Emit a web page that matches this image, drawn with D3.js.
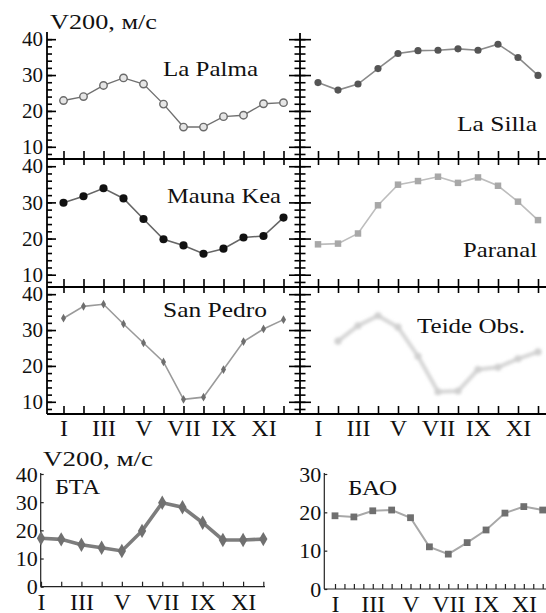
<!DOCTYPE html>
<html>
<head>
<meta charset="utf-8">
<script src="https://cdn.jsdelivr.net/npm/d3@7"></script>
<style>
  body { margin: 0; background: #fff; }
</style>
</head>
<body>
<svg id="chart" width="546" height="613"></svg>
<script>
// month labels
const months = ["I", "II", "III", "IV", "V", "VI", "VII", "VIII", "IX", "X", "XI", "XII"];

// V200 monthly values, m/s
const laPalma  = [22.9, 24.0, 27.1, 29.2, 27.5, 21.9, 15.5, 15.5, 18.4, 18.8, 22.0, 22.3];
const laSilla  = [27.9, 25.8, 27.5, 31.8, 36.0, 36.8, 36.9, 37.3, 36.9, 38.6, 34.9, 29.9];
const maunaKea = [29.9, 31.7, 33.9, 31.1, 25.4, 19.8, 18.1, 15.8, 17.2, 20.3, 20.7, 25.8];
const paranal  = [18.4, 18.6, 21.4, 29.2, 34.9, 35.9, 37.1, 35.4, 36.9, 34.6, 30.2, 25.1];
const sanPedro = [33.3, 36.6, 37.2, 31.7, 26.4, 21.1, 10.7, 11.3, 19.0, 26.8, 30.3, 32.9];
const teide    = [null, 26.9, 31.2, 34.0, 30.8, 22.7, 12.8, 13.0, 19.0, 19.6, 22.0, 23.9];
const bta      = [17.2, 16.8, 14.9, 13.8, 12.7, 19.8, 29.8, 28.2, 22.7, 16.6, 16.6, 16.9];
const bao      = [19.1, 18.8, 20.4, 20.6, 18.6, 11.0,  9.1, 12.1, 15.4, 19.8, 21.5, 20.6];

// tick values
const topTicks = [10, 20, 30, 40];
const btaTicks = [0, 10, 20, 30, 40];
const baoTicks = [0, 10, 20, 30];

const FONT = "'Liberation Serif', 'Times New Roman', serif";

const svg = d3.select("#chart");
const monthNums = d3.range(1, 13);

function styleText(sel, size) {
  sel.attr("font-size", size).style("font-family", FONT).attr("fill", "#111");
}

// ---- top 3x2 grid ----
const rows = [[32, 159], [159, 287], [287, 414]];
const yRows = rows.map(r => d3.scaleLinear().domain([6.6, 42]).range([r[1], r[0]]));
const xLeft = d3.scaleLinear().domain([1, 12]).range([63.5, 283.5]);
const xRight = d3.scaleLinear().domain([1, 12]).range([318, 538]);
const minorTop = d3.range(8, 42, 2);

const axes = svg.append("g").attr("stroke", "#000").attr("stroke-width", 1.8);

// frame lines
axes.append("line").attr("x1", 47).attr("x2", 47).attr("y1", 32).attr("y2", 414);
axes.append("line").attr("x1", 300).attr("x2", 300).attr("y1", 33).attr("y2", 414);
rows.forEach(r => {
  axes.append("line").attr("x1", 47).attr("x2", 546).attr("y1", r[1]).attr("y2", r[1]);
});

function tickStyle(g) {
  g.select(".domain").remove();
  g.selectAll(".tick line").attr("stroke", "#000").attr("stroke-width", 1.6);
}

yRows.forEach((y, i) => {
  // left axis: inward ticks
  svg.append("g").attr("transform", "translate(47,0)")
    .call(d3.axisRight(y).tickValues(minorTop).tickSize(5).tickFormat(""))
    .call(tickStyle);
  svg.append("g").attr("transform", "translate(47,0)")
    .call(d3.axisRight(y).tickValues(topTicks).tickSize(9).tickFormat(""))
    .call(tickStyle);
  svg.append("g").attr("transform", "translate(43,0)")
    .call(d3.axisLeft(y).tickValues(topTicks).tickSize(0).tickPadding(0))
    .call(g => g.select(".domain").remove())
    .call(g => styleText(g.selectAll("text"), 21));

  // right axis: ticks both sides
  [d3.axisLeft, d3.axisRight].forEach(ax => {
    svg.append("g").attr("transform", "translate(300,0)")
      .call(ax(y).tickValues(minorTop).tickSize(5.5).tickFormat(""))
      .call(tickStyle);
    svg.append("g").attr("transform", "translate(300,0)")
      .call(ax(y).tickValues(topTicks).tickSize(11).tickFormat(""))
      .call(tickStyle);
  });

  // month ticks
  const yb = rows[i][1];
  [xLeft, xRight].forEach(x => {
    svg.append("g").attr("transform", `translate(0,${yb})`)
      .call(d3.axisTop(x).tickValues(monthNums).tickSize(8).tickFormat(""))
      .call(tickStyle);
    if (i < 2) {
      svg.append("g").attr("transform", `translate(0,${yb})`)
        .call(d3.axisBottom(x).tickValues(monthNums).tickSize(6).tickFormat(""))
        .call(tickStyle);
    }
  });
});

// month labels under the grid
[xLeft, xRight].forEach(x => {
  svg.append("g").attr("transform", "translate(0,414)")
    .call(d3.axisBottom(x).tickValues(monthNums.filter(m => m % 2 === 1)).tickSize(0).tickPadding(0)
      .tickFormat(m => months[m - 1]))
    .call(g => g.select(".domain").remove())
    .call(g => styleText(g.selectAll("text").attr("dy", null).attr("y", 22), 24));
});

// series drawing
const defs = svg.append("defs");
defs.append("filter").attr("id", "blur").attr("x", "-10%").attr("y", "-10%").attr("width", "120%").attr("height", "120%")
  .append("feGaussianBlur").attr("stdDeviation", 1.5);

function drawSeries(x, y, values, opt) {
  const g = svg.append("g");
  if (opt.filter) g.attr("filter", opt.filter);
  const pts = values.map((v, i) => [i + 1, v]).filter(d => d[1] != null);
  const line = d3.line().x(d => x(d[0])).y(d => y(d[1]));
  g.append("path").attr("d", line(pts))
    .attr("fill", "none").attr("stroke", opt.line).attr("stroke-width", opt.lineWidth);
  g.selectAll("path.mark").data(pts).join("path").attr("class", "mark")
    .attr("transform", d => `translate(${x(d[0])},${y(d[1])})`)
    .attr("d", d3.symbol().type(opt.symbol).size(opt.size))
    .attr("fill", opt.fill)
    .attr("stroke", opt.stroke || "none")
    .attr("stroke-width", opt.strokeWidth || 0);
}

drawSeries(xLeft, yRows[0], laPalma, { line: "#707070", lineWidth: 1.4, symbol: d3.symbolCircle, size: 44, fill: "#e6e6e6", stroke: "#6a6a6a", strokeWidth: 1.4 });
drawSeries(xRight, yRows[0], laSilla, { line: "#8a8a8a", lineWidth: 1.6, symbol: d3.symbolCircle, size: 40, fill: "#555" });
drawSeries(xLeft, yRows[1], maunaKea, { line: "#666", lineWidth: 1.6, symbol: d3.symbolCircle, size: 52, fill: "#111" });
drawSeries(xRight, yRows[1], paranal, { line: "#bdbdbd", lineWidth: 1.6, symbol: d3.symbolSquare, size: 42, fill: "#a8a8a8" });
drawSeries(xLeft, yRows[2], sanPedro, { line: "#9a9a9a", lineWidth: 1.6, symbol: d3.symbolDiamond, size: 22, fill: "#6e6e6e" });
drawSeries(xRight, yRows[2], teide, { line: "#d6d6d6", lineWidth: 4, symbol: d3.symbolCircle, size: 40, fill: "#d0d0d0", filter: "url(#blur)" });

// site labels
const siteLabels = [
  { t: "La Palma", x: 163, y: 76, w: 95 },
  { t: "La Silla", x: 457, y: 131, w: 80 },
  { t: "Mauna Kea", x: 167, y: 203, w: 114 },
  { t: "Paranal", x: 463, y: 257, w: 74 },
  { t: "San Pedro", x: 163, y: 317, w: 104 },
  { t: "Teide Obs.", x: 417, y: 333, w: 108 },
  { t: "V200, м/с", x: 50, y: 29, w: 107 },
  { t: "V200, м/с", x: 43, y: 466, w: 110 },
  { t: "БТА", x: 55, y: 494, w: 45 },
  { t: "БАО", x: 348, y: 495, w: 49 }
];
svg.append("g").selectAll("text").data(siteLabels).join("text")
  .attr("x", d => d.x).attr("y", d => d.y)
  .attr("textLength", d => d.w).attr("lengthAdjust", "spacingAndGlyphs")
  .text(d => d.t)
  .call(s => styleText(s, 22));

// ---- bottom panels ----
function bottomPanel(values, ticks, xr, yr, axisX, rightEnd, halfTicks, opt) {
  const x = d3.scaleLinear().domain([1, 12]).range(xr);
  const y = d3.scaleLinear().domain([0, d3.max(ticks)]).range(yr);
  const g = svg.append("g").attr("stroke", "#222").attr("stroke-width", 1.2);
  g.append("line").attr("x1", axisX).attr("x2", axisX).attr("y1", yr[1] - 1).attr("y2", yr[0]);
  g.append("line").attr("x1", axisX).attr("x2", rightEnd).attr("y1", yr[0]).attr("y2", yr[0]);

  const xt = halfTicks ? d3.range(1, 12.6, 0.5) : monthNums;
  svg.append("g").attr("transform", `translate(0,${yr[0]})`)
    .call(d3.axisTop(x).tickValues(xt).tickSize(5).tickFormat(""))
    .call(g => g.select(".domain").remove())
    .call(g => g.selectAll(".tick line").attr("stroke", "#222").attr("stroke-width", 1.2));
  svg.append("g").attr("transform", `translate(0,${yr[0]})`)
    .call(d3.axisBottom(x).tickValues(monthNums.filter(m => m % 2 === 1)).tickSize(0).tickPadding(0)
      .tickFormat(m => months[m - 1]))
    .call(g => g.select(".domain").remove())
    .call(g => styleText(g.selectAll("text").attr("dy", null).attr("y", 23), 24));

  svg.append("g").attr("transform", `translate(${axisX},0)`)
    .call(d3.axisRight(y).tickValues(ticks).tickSize(3).tickFormat(""))
    .call(g => g.select(".domain").remove())
    .call(g => g.selectAll(".tick line").attr("stroke", "#222").attr("stroke-width", 1.2));
  svg.append("g").attr("transform", `translate(${axisX - 3},0)`)
    .call(d3.axisLeft(y).tickValues(ticks).tickSize(0).tickPadding(0))
    .call(g => g.select(".domain").remove())
    .call(g => styleText(g.selectAll("text"), 22));

  drawSeries(x, y, values, opt);
}

bottomPanel(bta, btaTicks, [41, 263.3], [586.7, 474], 40.7, 265, false,
  { line: "#7d7d7d", lineWidth: 3.6, symbol: d3.symbolDiamond, size: 60, fill: "#707070" });
bottomPanel(bao, baoTicks, [335, 542.7], [589, 474], 324.3, 546, true,
  { line: "#a8a8a8", lineWidth: 2, symbol: d3.symbolSquare, size: 46, fill: "#6f6f6f" });
</script>
</body>
</html>
